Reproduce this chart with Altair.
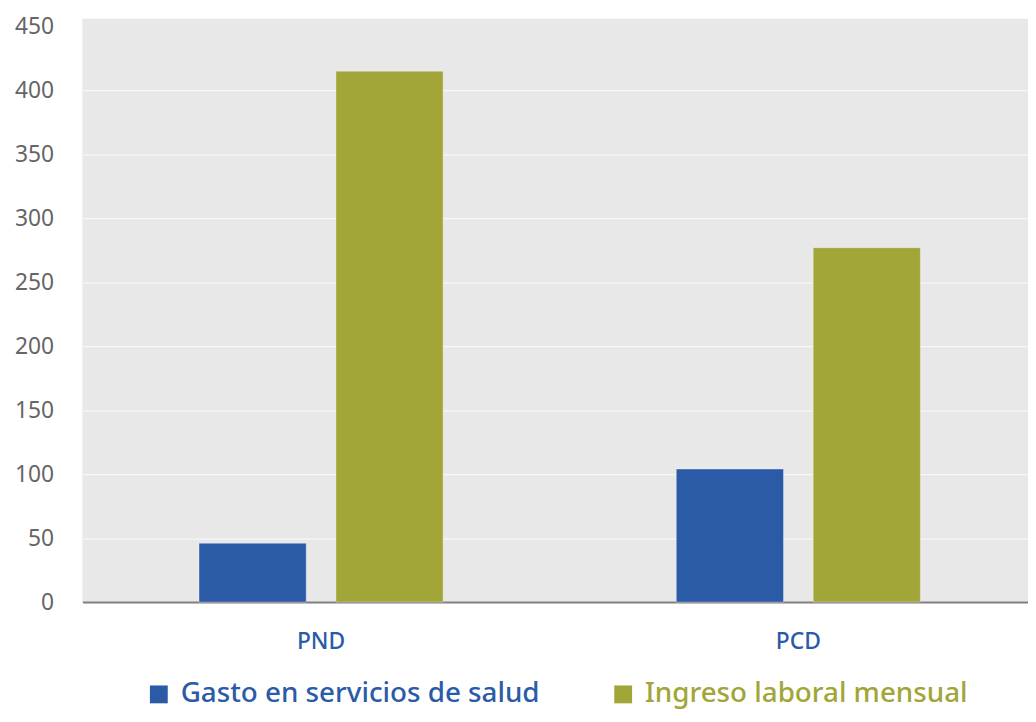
import altair as alt
import pandas as pd

categories = ["PND", "PCD"]
series = ["Gasto en servicios de salud", "Ingreso laboral mensual"]
gasto = [46, 104]
ingreso = [415, 277]
y_ticks = [0, 50, 100, 150, 200, 250, 300, 350, 400, 450]

rows = []
for i, c in enumerate(categories):
    rows.append({"grupo": c, "serie": series[0], "valor": gasto[i]})
    rows.append({"grupo": c, "serie": series[1], "valor": ingreso[i]})
df = pd.DataFrame(rows)

BLUE = "#2B5BA7"
GREEN = "#A2A537"
FONT = "Noto Sans"

label_color_expr = "datum.label === '%s' ? '%s' : '%s'" % (series[0], BLUE, GREEN)

chart = alt.Chart(df).mark_bar(stroke="#ffffff", strokeWidth=1, strokeOpacity=0.35).encode(
    x=alt.X("grupo:N", sort=categories, title=None,
            scale=alt.Scale(paddingInner=0.4886, paddingOuter=0.2349, align=0.52),
            axis=alt.Axis(labelAngle=0, labelFont=FONT, labelFontSize=23, labelFontWeight=500,
                          labelColor=BLUE, labelPadding=29, ticks=False, grid=False,
                          domainColor="#808080", domainWidth=2)),
    xOffset=alt.XOffset("serie:N", sort=series,
                        scale=alt.Scale(paddingInner=0.217, paddingOuter=0)),
    y=alt.Y("valor:Q", title=None,
            scale=alt.Scale(domain=[0, 456], nice=False),
            axis=alt.Axis(values=y_ticks, labelFont=FONT, labelFontSize=23, labelColor="#666666",
                          labelPadding=29, ticks=False, domain=False,
                          gridColor={"expr": "datum.value == 450 ? '#E8E8E8' : '#F7F7F7'"},
                          gridWidth=1.2)),
    color=alt.Color("serie:N", sort=series,
                    scale=alt.Scale(domain=series, range=[BLUE, GREEN]),
                    legend=alt.Legend(title=None, orient="none", direction="horizontal",
                                      legendX=63, legendY=667,
                                      symbolType="square", symbolSize=324,
                                      symbolStrokeWidth=0, symbolOpacity=1,
                                      labelFont=FONT, labelFontSize=28, labelFontWeight=500,
                                      labelColor={"expr": label_color_expr},
                                      labelOffset=8, columnPadding=70, padding=0,
                                      labelLimit=600)),
).properties(
    width=953,
    height=588,
    autosize=alt.AutoSizeParams(type="none"),
    padding={"left": 75, "top": 8, "right": 0, "bottom": 110},
).configure_view(
    fill="#E8E8E8", stroke=None
)

chart.save("out.html", embed_options={"renderer": "svg", "actions": False})
